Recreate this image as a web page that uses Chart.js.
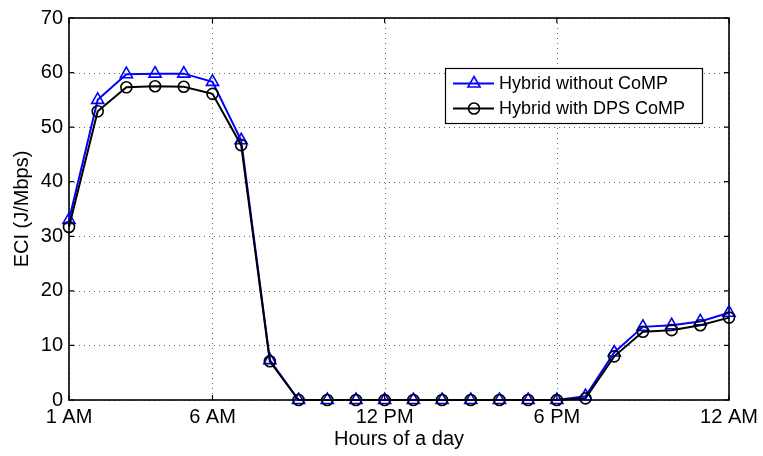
<!DOCTYPE html>
<html><head><meta charset="utf-8">
<script src="https://cdn.jsdelivr.net/npm/chart.js@4.4.1/dist/chart.umd.min.js"></script>
<style>html,body{margin:0;padding:0;background:#fff;overflow:hidden}#wrap{width:763px;height:456px}</style>
</head><body><div id="wrap"><canvas id="c" width="763" height="456"></canvas></div>
<script>
const hours = [1, 2, 3, 4, 5, 6, 7, 8, 9, 10, 11, 12, 13, 14, 15, 16, 17, 18, 19, 20, 21, 22, 23, 24];
const withoutCoMP = [33.0, 55.0, 59.7, 59.8, 59.8, 58.3, 47.6, 7.3, 0, 0, 0, 0, 0, 0, 0, 0, 0, 0, 0.7, 8.7, 13.4, 13.7, 14.4, 16.0];
const withDPSCoMP = [31.7, 52.9, 57.3, 57.5, 57.4, 56.1, 46.7, 7.1, 0, 0, 0, 0, 0, 0, 0, 0, 0, 0, 0.3, 8.0, 12.5, 12.8, 13.7, 15.1];
const seriesLabels = ['Hybrid without CoMP', 'Hybrid with DPS CoMP'];
const xTickValues = [1, 6, 12, 18, 24];
const xTickLabels = ['1 AM', '6 AM', '12 PM', '6 PM', '12 AM'];
const yTickValues = [0, 10, 20, 30, 40, 50, 60, 70];
const xTitle = 'Hours of a day';
const yTitle = 'ECI (J/Mbps)';

const FONT = "'Liberation Sans', Arial, Helvetica, sans-serif";
Chart.defaults.font.family = FONT;
Chart.defaults.color = '#000';

function pts(arr) { return hours.map((h, i) => ({ x: h, y: arr[i] })); }

const framePlugin = {
  id: 'frame',
  beforeDatasetsDraw(chart) {
    const ctx = chart.ctx, a = chart.chartArea;
    const xs = chart.scales.x, ys = chart.scales.y;
    ctx.save();
    ctx.strokeStyle = '#666';
    ctx.lineWidth = 1;
    ctx.setLineDash([1, 4]);
    xTickValues.forEach(v => {
      const px = Math.round(xs.getPixelForValue(v)) + 0.5;
      ctx.beginPath(); ctx.moveTo(px, a.top); ctx.lineTo(px, a.bottom); ctx.stroke();
    });
    yTickValues.forEach(v => {
      const py = Math.round(ys.getPixelForValue(v)) + 0.5;
      ctx.beginPath(); ctx.moveTo(a.left, py); ctx.lineTo(a.right, py); ctx.stroke();
    });
    ctx.setLineDash([]);
    ctx.strokeStyle = '#000';
    ctx.lineWidth = 1.6;
    ctx.strokeRect(a.left, a.top, a.right - a.left, a.bottom - a.top);
    const tl = 5;
    ctx.lineWidth = 1.2;
    xTickValues.forEach(v => {
      const px = xs.getPixelForValue(v);
      ctx.beginPath();
      ctx.moveTo(px, a.bottom); ctx.lineTo(px, a.bottom - tl);
      ctx.moveTo(px, a.top); ctx.lineTo(px, a.top + tl);
      ctx.stroke();
    });
    yTickValues.forEach(v => {
      const py = ys.getPixelForValue(v);
      ctx.beginPath();
      ctx.moveTo(a.left, py); ctx.lineTo(a.left + tl, py);
      ctx.moveTo(a.right, py); ctx.lineTo(a.right - tl, py);
      ctx.stroke();
    });
    ctx.restore();
  },
  afterDraw(chart) {
    const ctx = chart.ctx;
    const box = { x: 445, y: 68, w: 257, h: 55 };
    ctx.save();
    ctx.fillStyle = '#fff';
    ctx.fillRect(box.x, box.y, box.w, box.h);
    ctx.strokeStyle = '#000';
    ctx.lineWidth = 1.2;
    ctx.strokeRect(box.x + 0.5, box.y + 0.5, box.w, box.h);
    const rows = [83.5, 108.5];
    const ds = chart.data.datasets;
    const order = [1, 0];
    order.forEach((di, r) => {
      const d = ds[di];
      const y = rows[r];
      ctx.strokeStyle = d.borderColor;
      ctx.lineWidth = d.borderWidth;
      ctx.beginPath(); ctx.moveTo(453, y); ctx.lineTo(494, y); ctx.stroke();
      ctx.lineWidth = d.pointBorderWidth;
      ctx.beginPath();
      const cx = 474, rad = d.pointRadius;
      if (d.pointStyle === 'triangle') {
        let ang = 0;
        for (let k = 0; k < 3; k++) {
          const px = cx + Math.sin(ang) * rad, py = y - Math.cos(ang) * rad;
          if (k === 0) ctx.moveTo(px, py); else ctx.lineTo(px, py);
          ang += 2 * Math.PI / 3;
        }
        ctx.closePath();
      } else {
        ctx.arc(cx, y, rad, 0, 2 * Math.PI);
      }
      ctx.stroke();
      ctx.fillStyle = '#000';
      ctx.font = '18px ' + FONT;
      ctx.textBaseline = 'middle';
      ctx.textAlign = 'left';
      ctx.fillText(d.label, 499, y + 1);
    });
    ctx.restore();
  }
};

new Chart(document.getElementById('c'), {
  type: 'line',
  data: {
    datasets: [
      {
        label: seriesLabels[1], data: pts(withDPSCoMP), order: 1,
        borderColor: '#000', borderWidth: 2, pointStyle: 'circle', pointRadius: 5.5,
        pointBorderWidth: 1.6, pointBorderColor: '#000', pointBackgroundColor: 'rgba(0,0,0,0)',
        tension: 0, clip: false
      },
      {
        label: seriesLabels[0], data: pts(withoutCoMP), order: 2,
        borderColor: '#0000ff', borderWidth: 2, pointStyle: 'triangle', pointRadius: 7,
        pointBorderWidth: 1.6, pointBorderColor: '#0000ff', pointBackgroundColor: 'rgba(0,0,0,0)',
        tension: 0, clip: false
      }
    ]
  },
  options: {
    responsive: false, animation: false, devicePixelRatio: 1,
    layout: { padding: { left: 0, top: 13, right: 34, bottom: 0 } },
    plugins: { legend: { display: false }, tooltip: { enabled: false } },
    elements: { point: { hoverRadius: 5.5 } },
    scales: {
      x: {
        type: 'linear', min: 1, max: 24,
        afterBuildTicks: s => { s.ticks = xTickValues.map(v => ({ value: v })); },
        afterFit: s => { s.height = 56; },
        grid: { display: false, drawTicks: false },
        border: { display: false },
        ticks: {
          font: { size: 20 }, padding: 5, maxRotation: 0, autoSkip: false,
          callback: v => { const i = xTickValues.indexOf(v); return i >= 0 ? xTickLabels[i] : ''; }
        },
        title: { display: true, text: xTitle, font: { size: 20 }, padding: { top: 0, bottom: 5 } }
      },
      y: {
        type: 'linear', min: 0, max: 70,
        afterBuildTicks: s => { s.ticks = yTickValues.map(v => ({ value: v })); },
        afterFit: s => { s.width = 69; },
        grid: { display: false, drawTicks: false },
        border: { display: false },
        ticks: { font: { size: 20 }, padding: 6 },
        title: { display: true, text: yTitle, font: { size: 20 }, padding: { top: 10, bottom: 0 } }
      }
    }
  },
  plugins: [framePlugin]
});
</script>
</body></html>
